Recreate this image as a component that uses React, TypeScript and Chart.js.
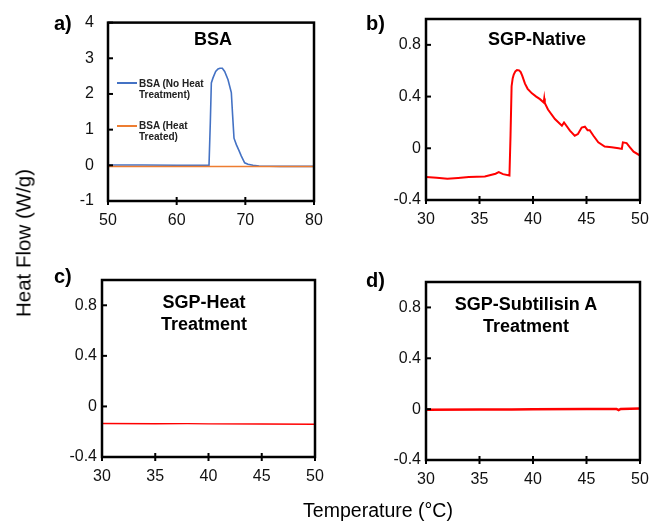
import React, { useEffect, useRef } from "react";
import { Chart, registerables } from "chart.js";

Chart.register(...registerables);
Chart.defaults.font.family = "'Liberation Sans', Arial, Helvetica, sans-serif";

// ---------- Data ----------
// Panel a) BSA
const bsaNoHeatTemp = [50, 55, 60, 64.71, 64.9, 65.05, 65.29, 65.68, 66.02, 66.3, 66.65, 66.99, 67.48, 67.96, 68.15, 68.35, 68.69, 69.08, 69.42, 69.9, 70.39, 71.12, 72, 75, 80];
const bsaNoHeatFlow = [0.01, 0.01, 0.0, 0.0, 1.2, 2.31, 2.45, 2.63, 2.7, 2.72, 2.72, 2.63, 2.4, 2.04, 1.4, 0.76, 0.58, 0.41, 0.26, 0.07, 0.03, 0.0, -0.02, -0.03, -0.03];
const bsaHeatTemp = [50, 60, 70, 80];
const bsaHeatFlow = [-0.03, -0.03, -0.03, -0.03];
const bsaXTicks = [50, 60, 70, 80];
const bsaYTicks = [-1, 0, 1, 2, 3, 4];

// Panel b) SGP-Native
const nativeTemp = [30, 31, 32, 33, 34, 35.5, 36.5, 36.8, 37.2, 37.8, 37.9, 38.0, 38.1, 38.2, 38.35, 38.5, 38.7, 38.85, 39.0, 39.25, 39.5, 39.9, 40.3, 40.65, 41.0, 41.05, 41.1, 41.4, 42.05, 42.7, 42.9, 43.45, 43.9, 44.2, 44.55, 44.85, 45.1, 45.3, 45.65, 46.1, 46.7, 47.35, 48.0, 48.3, 48.4, 48.75, 49.06, 49.4, 50];
const nativeFlow = [-0.223, -0.228, -0.236, -0.23, -0.223, -0.218, -0.197, -0.185, -0.2, -0.21, 0.1, 0.48, 0.54, 0.57, 0.595, 0.605, 0.603, 0.59, 0.56, 0.5, 0.46, 0.425, 0.4, 0.38, 0.354, 0.385, 0.35, 0.3, 0.226, 0.174, 0.2, 0.136, 0.097, 0.11, 0.16, 0.167, 0.14, 0.14, 0.097, 0.046, 0.013, 0.008, 0.0, -0.005, 0.046, 0.04, 0.008, -0.026, -0.056];

// Panel c) SGP-Heat Treatment
const heatTemp = [30, 35, 38, 40, 45, 50];
const heatFlow = [-0.135, -0.137, -0.136, -0.138, -0.139, -0.141];

// Panel d) SGP-Subtilisin A Treatment
const subTemp = [30, 35, 38, 40, 45, 47.8, 48, 48.2, 50];
const subFlow = [-0.005, -0.003, -0.002, 0.0, 0.002, 0.002, -0.008, 0.002, 0.005];

const sgpXTicks = [30, 35, 40, 45, 50];
const sgpYTicks = [-0.4, 0, 0.4, 0.8];

// ---------- Chart helpers ----------
const framePlugin = {
  id: "frame",
  afterDatasetsDraw(chart: any) {
    const { ctx, chartArea, scales } = chart;
    const { left, top, right, bottom } = chartArea;
    ctx.save();
    ctx.strokeStyle = "#000";
    ctx.lineWidth = 2.5;
    ctx.strokeRect(left, top, right - left, bottom - top);
    ctx.lineWidth = 2;
    scales.y.ticks.forEach((t: any) => {
      const py = scales.y.getPixelForValue(t.value);
      ctx.beginPath();
      ctx.moveTo(left, py);
      ctx.lineTo(left + 5, py);
      ctx.stroke();
    });
    scales.x.ticks.forEach((t: any) => {
      const px = scales.x.getPixelForValue(t.value);
      ctx.beginPath();
      ctx.moveTo(px, bottom - 4);
      ctx.lineTo(px, bottom + 4);
      ctx.stroke();
    });
    ctx.restore();
  },
};

type Series = { temps: number[]; flows: number[]; color: string; width: number };
type Area = { l: number; t: number; r: number; b: number };
type PanelProps = {
  area: Area;
  series: Series[];
  xMin: number;
  xMax: number;
  xTicks: number[];
  yMin: number;
  yMax: number;
  yTicks: number[];
  yPad: number;
};

const PADL = 70;
const PADT = 20;
const PADR = 20;
const PADB = 40;

function Panel(props: PanelProps) {
  const ref = useRef<HTMLCanvasElement>(null);
  const { area } = props;
  const w = area.r - area.l + PADL + PADR;
  const h = area.b - area.t + PADT + PADB;

  useEffect(() => {
    const { series, xMin, xMax, xTicks, yMin, yMax, yTicks, yPad } = props;
    const tickFont = { size: 16 };
    const chart = new Chart(ref.current as HTMLCanvasElement, {
      type: "line",
      data: {
        datasets: series.map((s) => ({
          data: s.temps.map((x, i) => ({ x, y: s.flows[i] })),
          borderColor: s.color,
          borderWidth: s.width,
          pointRadius: 0,
          tension: 0,
          fill: false,
        })),
      },
      options: {
        animation: false,
        responsive: false,
        maintainAspectRatio: false,
        layout: { padding: { top: PADT, right: PADR, left: 0, bottom: 0 } },
        plugins: { legend: { display: false }, tooltip: { enabled: false } },
        scales: {
          x: {
            type: "linear",
            min: xMin,
            max: xMax,
            afterBuildTicks: (s: any) => {
              s.ticks = xTicks.map((v) => ({ value: v }));
            },
            afterFit: (s: any) => {
              s.height = PADB;
            },
            grid: { display: false, drawTicks: false },
            border: { display: false },
            ticks: {
              padding: 10,
              font: tickFont,
              color: "#111",
              maxRotation: 0,
              autoSkip: false,
              callback: (v: any) => String(v),
            },
          },
          y: {
            type: "linear",
            min: yMin,
            max: yMax,
            afterBuildTicks: (s: any) => {
              s.ticks = yTicks.map((v) => ({ value: v }));
            },
            afterFit: (s: any) => {
              s.width = PADL;
            },
            grid: { display: false, drawTicks: false },
            border: { display: false },
            ticks: {
              padding: yPad,
              font: tickFont,
              color: "#111",
              autoSkip: false,
              callback: (v: any) => String(Math.round(Number(v) * 10) / 10),
            },
          },
        },
      } as any,
      plugins: [framePlugin],
    });
    return () => chart.destroy();
  }, []);

  return (
    <canvas
      ref={ref}
      width={w}
      height={h}
      style={{ position: "absolute", left: area.l - PADL, top: area.t - PADT, width: w, height: h }}
    />
  );
}

const RED = "#ff0000";
const BLUE = "#4472c4";
const ORANGE = "#ed7d31";

const textBase: React.CSSProperties = {
  position: "absolute",
  color: "#000",
  whiteSpace: "nowrap",
  fontFamily: "'Liberation Sans', Arial, Helvetica, sans-serif",
};

export default function App() {
  return (
    <div
      style={{
        position: "absolute",
        left: 0,
        top: 0,
        width: 650,
        height: 522,
        background: "#fff",
        overflow: "hidden",
      }}
    >
      <Panel
        area={{ l: 108, t: 19, r: 314, b: 201 }}
        series={[
          { temps: bsaHeatTemp, flows: bsaHeatFlow, color: ORANGE, width: 1.5 },
          { temps: bsaNoHeatTemp, flows: bsaNoHeatFlow, color: BLUE, width: 1.6 },
        ]}
        xMin={50}
        xMax={80}
        xTicks={bsaXTicks}
        yMin={-1}
        yMax={4}
        yTicks={bsaYTicks}
        yPad={14}
      />
      <Panel
        area={{ l: 426, t: 19, r: 640, b: 200 }}
        series={[{ temps: nativeTemp, flows: nativeFlow, color: RED, width: 2 }]}
        xMin={30}
        xMax={50}
        xTicks={sgpXTicks}
        yMin={-0.4}
        yMax={1.0}
        yTicks={sgpYTicks}
        yPad={5}
      />
      <Panel
        area={{ l: 102, t: 280, r: 315, b: 457 }}
        series={[{ temps: heatTemp, flows: heatFlow, color: RED, width: 1.4 }]}
        xMin={30}
        xMax={50}
        xTicks={sgpXTicks}
        yMin={-0.4}
        yMax={1.0}
        yTicks={sgpYTicks}
        yPad={5}
      />
      <Panel
        area={{ l: 426, t: 282, r: 640, b: 460 }}
        series={[{ temps: subTemp, flows: subFlow, color: RED, width: 2.5 }]}
        xMin={30}
        xMax={50}
        xTicks={sgpXTicks}
        yMin={-0.4}
        yMax={1.0}
        yTicks={sgpYTicks}
        yPad={5}
      />

      {/* Panel letters */}
      <div style={{ ...textBase, left: 54, top: 13, fontSize: 20, lineHeight: "20px", fontWeight: "bold" }}>a)</div>
      <div style={{ ...textBase, left: 366, top: 13, fontSize: 20, lineHeight: "20px", fontWeight: "bold" }}>b)</div>
      <div style={{ ...textBase, left: 54, top: 266, fontSize: 20, lineHeight: "20px", fontWeight: "bold" }}>c)</div>
      <div style={{ ...textBase, left: 366, top: 270, fontSize: 20, lineHeight: "20px", fontWeight: "bold" }}>d)</div>

      {/* Panel titles */}
      <div style={{ ...textBase, left: 213, top: 30, transform: "translateX(-50%)", fontSize: 18, lineHeight: "18px", fontWeight: "bold" }}>BSA</div>
      <div style={{ ...textBase, left: 537, top: 30, transform: "translateX(-50%)", fontSize: 18, lineHeight: "18px", fontWeight: "bold" }}>SGP-Native</div>
      <div style={{ ...textBase, left: 204, top: 291, transform: "translateX(-50%)", fontSize: 18, lineHeight: "22px", fontWeight: "bold", textAlign: "center" }}>
        SGP-Heat
        <br />
        Treatment
      </div>
      <div style={{ ...textBase, left: 526, top: 293, transform: "translateX(-50%)", fontSize: 18, lineHeight: "22px", fontWeight: "bold", textAlign: "center" }}>
        SGP-Subtilisin A
        <br />
        Treatment
      </div>

      {/* Legend for panel a */}
      <div style={{ position: "absolute", left: 117, top: 82, width: 20, height: 2, background: BLUE }} />
      <div style={{ ...textBase, left: 139, top: 78, fontSize: 10, lineHeight: "11px", fontWeight: "bold", color: "#222" }}>
        BSA (No Heat
        <br />
        Treatment)
      </div>
      <div style={{ position: "absolute", left: 117, top: 125, width: 20, height: 2, background: ORANGE }} />
      <div style={{ ...textBase, left: 139, top: 120, fontSize: 10, lineHeight: "11px", fontWeight: "bold", color: "#222" }}>
        BSA (Heat
        <br />
        Treated)
      </div>

      {/* Shared axis titles */}
      <div
        style={{
          ...textBase,
          left: 23,
          top: 243,
          transform: "translate(-50%, -50%) rotate(-90deg)",
          fontSize: 20.5,
          lineHeight: "21px",
        }}
      >
        Heat Flow (W/g)
      </div>
      <div style={{ ...textBase, left: 378, top: 510, transform: "translate(-50%, -50%)", fontSize: 19.5, lineHeight: "20px" }}>
        Temperature (°C)
      </div>
    </div>
  );
}
